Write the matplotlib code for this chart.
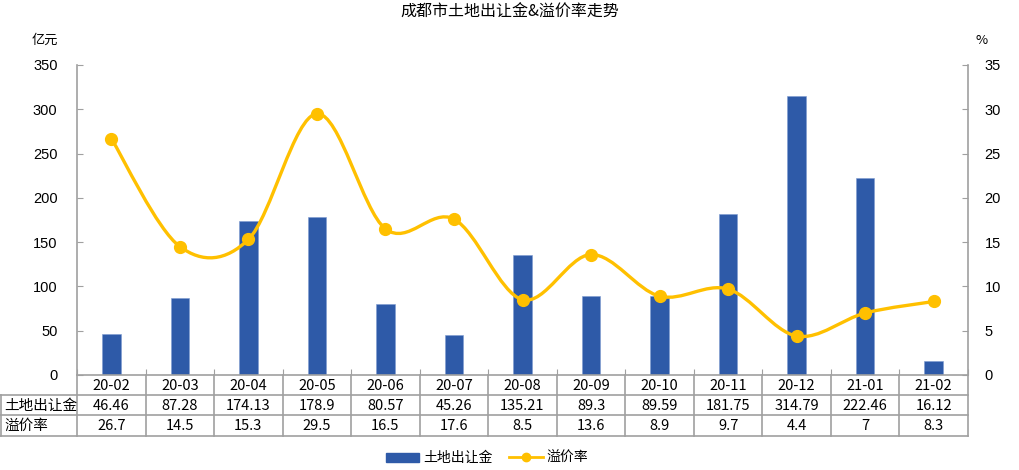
import matplotlib
matplotlib.use("Agg")
import matplotlib.pyplot as plt
import numpy as np
from matplotlib.path import Path
from matplotlib.patches import PathPatch
from matplotlib.lines import Line2D
from matplotlib.patches import Patch

plt.rcParams['font.family'] = ['Liberation Sans', 'Noto Sans CJK SC', 'DejaVu Sans']

categories = ["20-02", "20-03", "20-04", "20-05", "20-06", "20-07", "20-08",
              "20-09", "20-10", "20-11", "20-12", "21-01", "21-02"]
land_sales = [46.46, 87.28, 174.13, 178.9, 80.57, 45.26, 135.21,
              89.3, 89.59, 181.75, 314.79, 222.46, 16.12]
premium_rate = [26.7, 14.5, 15.3, 29.5, 16.5, 17.6, 8.5,
                13.6, 8.9, 9.7, 4.4, 7, 8.3]
sales_labels = ["46.46", "87.28", "174.13", "178.9", "80.57", "45.26", "135.21",
                "89.3", "89.59", "181.75", "314.79", "222.46", "16.12"]
rate_labels = ["26.7", "14.5", "15.3", "29.5", "16.5", "17.6", "8.5",
               "13.6", "8.9", "9.7", "4.4", "7", "8.3"]
left_ticks = [0, 50, 100, 150, 200, 250, 300, 350]
right_ticks = [0, 5, 10, 15, 20, 25, 30, 35]
title = "成都市土地出让金&溢价率走势"
name_sales = "土地出让金"
name_rate = "溢价率"

BAR = "#2E5AA8"
LINE = "#FFC000"
GRID = "#A0A0A0"
CJK = ['Noto Sans CJK SC', 'DejaVu Sans']

W, H = 1020, 470
fig = plt.figure(figsize=(W / 100, H / 100), dpi=100)
L, R, T, B = 77, 968, 65, 375
ax = fig.add_axes([L / W, 1 - B / H, (R - L) / W, (B - T) / H])
ax2 = ax.twinx()

n = len(categories)
x = np.arange(n)
ax.bar(x, land_sales, width=0.27, color=BAR, edgecolor="#7D9BD0", linewidth=0.4, zorder=2)
ax.set_xlim(-0.5, n - 0.5)
ax.set_ylim(0, 350)
ax.set_yticks(left_ticks)
ax2.set_ylim(0, 35)
ax2.set_yticks(right_ticks)

# smooth (Bezier, Catmull-Rom style) curve through the data points
verts = [(x[0], premium_rate[0])]
codes = [Path.MOVETO]
P = np.column_stack([x, premium_rate]).astype(float)
for i in range(n - 1):
    p0 = P[i - 1] if i > 0 else P[i]
    p1 = P[i]
    p2 = P[i + 1]
    p3 = P[i + 2] if i + 2 < n else P[i + 1]
    c1 = p1 + (p2 - p0) / 6.0
    c2 = p2 - (p3 - p1) / 6.0
    verts += [tuple(c1), tuple(c2), tuple(p2)]
    codes += [Path.CURVE4] * 3
ax2.add_patch(PathPatch(Path(verts, codes), facecolor="none", edgecolor=LINE, lw=2.4, zorder=3))
ax2.plot(x, premium_rate, linestyle="none", marker="o", ms=8.5, color=LINE, zorder=4)

for a in (ax, ax2):
    for s in a.spines.values():
        s.set_color(GRID)
        s.set_linewidth(1.2)
    a.spines['top'].set_visible(False)
ax.spines['right'].set_visible(False)
ax2.spines['left'].set_visible(False)
ax2.spines['bottom'].set_visible(False)
ax.tick_params(axis='y', direction='in', length=4, color=GRID, labelsize=10.5, pad=14)
ax2.tick_params(axis='y', direction='in', length=4, color=GRID, labelsize=10.5, pad=12)
ax.set_xticks(np.arange(-0.5, n, 1.0))
ax.tick_params(axis='x', direction='in', length=4, color=GRID, labelbottom=False)


def fy(yp):
    return 1 - yp / H


tl = dict(color=GRID, lw=1.2, transform=fig.transFigure)
fig.add_artist(Line2D([0, R / W], [fy(395)] * 2, **tl))
fig.add_artist(Line2D([0, R / W], [fy(415)] * 2, **tl))
fig.add_artist(Line2D([0, R / W], [fy(436)] * 2, **tl))
cw = (R - L) / n
for k in range(n + 1):
    xv = L + k * cw
    fig.add_artist(Line2D([xv / W] * 2, [fy(375), fy(436)], **tl))
fig.add_artist(Line2D([1 / W] * 2, [fy(395), fy(436)], **tl))

for k in range(n):
    xc = (L + (k + 0.5) * cw) / W
    fig.text(xc, fy(385.5), categories[k], ha='center', va='center', fontsize=10.5, family=CJK)
    fig.text(xc, fy(405.5), sales_labels[k], ha='center', va='center', fontsize=10.5, family=CJK)
    fig.text(xc, fy(425.5), rate_labels[k], ha='center', va='center', fontsize=10.5, family=CJK)
fig.text(4 / W, fy(405.5), name_sales, ha='left', va='center', fontsize=10.5, family=CJK)
fig.text(4 / W, fy(425.5), name_rate, ha='left', va='center', fontsize=10.5, family=CJK)

fig.text(0.5, fy(12), title, ha='center', va='center', fontsize=11.5, family=CJK)
fig.text(45 / W, fy(40), "亿元", ha='center', va='center', fontsize=9.5, family=CJK)
fig.text(982 / W, fy(40), "%", ha='center', va='center', fontsize=9.5, family=CJK)

handles = [Patch(facecolor=BAR, edgecolor=BAR),
           Line2D([0], [0], color=LINE, lw=2, marker='o', ms=6)]
fig.legend(handles, [name_sales, name_rate], loc='center', bbox_to_anchor=(487 / W, fy(458)),
           ncol=2, frameon=False, prop={'family': CJK, 'size': 10}, handlelength=2.4,
           handleheight=0.6, columnspacing=1.2, handletextpad=0.3)

fig.savefig("out.png", dpi=100)
